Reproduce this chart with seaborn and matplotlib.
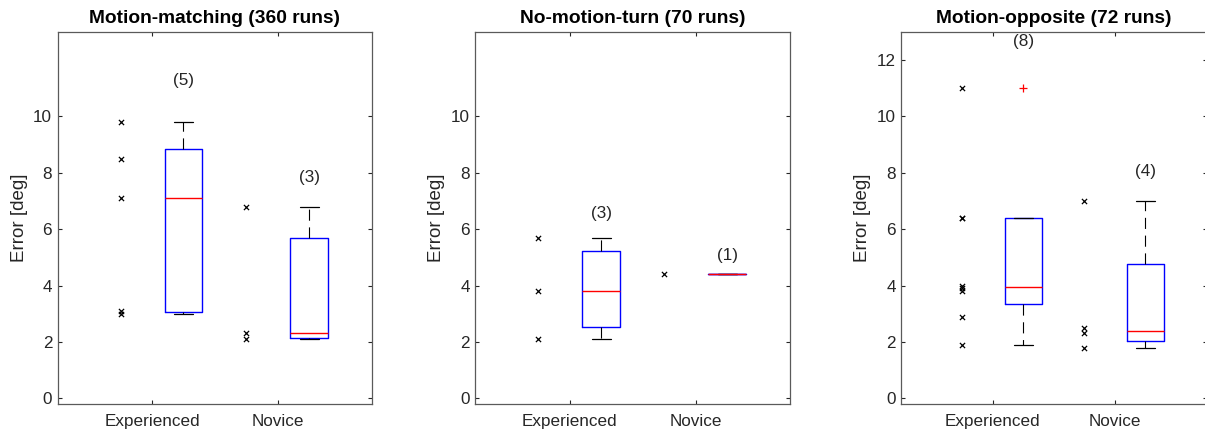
import numpy as np
import pandas as pd
import matplotlib
matplotlib.use("Agg")
import matplotlib.pyplot as plt
import seaborn as sns

# ---------------- data ----------------
groups = ["Experienced", "Novice"]
panel_titles = ["Motion-matching (360 runs)", "No-motion-turn (70 runs)", "Motion-opposite (72 runs)"]

matching_experienced = [9.8, 8.5, 7.1, 3.1, 3.0]
matching_novice = [6.8, 2.3, 2.1]
noturn_experienced = [5.7, 3.8, 2.1]
noturn_novice = [4.4]
opposite_experienced = [11.0, 6.4, 6.4, 4.0, 3.9, 3.8, 2.9, 1.9]
opposite_novice = [7.0, 2.5, 2.3, 1.8]

yticks_panels = [[0, 2, 4, 6, 8, 10], [0, 2, 4, 6, 8, 10], [0, 2, 4, 6, 8, 10, 12]]
ylabel = "Error [deg]"

panel_data = [
    (matching_experienced, matching_novice),
    (noturn_experienced, noturn_novice),
    (opposite_experienced, opposite_novice),
]

# ---------------- style ----------------
sns.set_theme(style="white")
plt.rcParams["font.family"] = ["Liberation Sans", "DejaVu Sans"]
GRAY = "#262626"


def matlab_prctile(vals, p):
    x = np.sort(np.asarray(vals, dtype=float))
    n = len(x)
    pos = n * p / 100.0 + 0.5
    pos = min(max(pos, 1.0), float(n))
    lo = int(np.floor(pos))
    hi = min(lo + 1, n)
    frac = pos - lo
    return x[lo - 1] + frac * (x[hi - 1] - x[lo - 1])


def box_stats(vals):
    x = np.asarray(vals, dtype=float)
    q1 = matlab_prctile(x, 25)
    q3 = matlab_prctile(x, 75)
    med = float(np.median(x))
    iqr = q3 - q1
    lo_f, hi_f = q1 - 1.5 * iqr, q3 + 1.5 * iqr
    inside = x[(x >= lo_f) & (x <= hi_f)]
    fl = x[(x < lo_f) | (x > hi_f)]
    return dict(med=med, q1=q1, q3=q3, whislo=inside.min(), whishi=inside.max(), fliers=fl)


fig = plt.figure(figsize=(12.05, 4.33), dpi=100)
W, H = 1205.0, 433.0
bottom = 1 - 404.0 / H
height = (404.0 - 31.7) / H
lefts = [57.7, 475.3, 901.3]
widths = [314.3, 314.7, 305.2]

FS = 12.3
for k in range(3):
    ax = fig.add_axes([lefts[k] / W, bottom, widths[k] / W, height])
    exp_vals, nov_vals = panel_data[k]
    cat_pos = np.arange(1, len(groups) + 1)

    rows = []
    for gi, vals in enumerate([exp_vals, nov_vals]):
        for v in vals:
            rows.append({"group": groups[gi], "pos": cat_pos[gi] - 0.25, "value": v})
    df = pd.DataFrame(rows)

    sns.scatterplot(data=df, x="pos", y="value", marker="x", color="black",
                    s=14, linewidth=0.9, ax=ax, legend=False, zorder=3)

    stats = [box_stats(v) for v in (exp_vals, nov_vals)]
    ax.bxp(stats, positions=cat_pos + 0.25, widths=0.3, capwidths=0.15,
           showfliers=True, patch_artist=False,
           boxprops=dict(color="blue", linewidth=1.0),
           medianprops=dict(color="red", linewidth=1.0),
           whiskerprops=dict(color="black", linewidth=0.8, linestyle=(0, (10, 6))),
           capprops=dict(color="black", linewidth=0.9),
           flierprops=dict(marker="+", markeredgecolor="red", markersize=6,
                           markeredgewidth=0.9, linestyle="none"),
           manage_ticks=False)

    for gi, vals in enumerate([exp_vals, nov_vals]):
        ax.text(cat_pos[gi] + 0.25, 1.15 * max(vals), f"({len(vals)})",
                ha="center", va="center", fontsize=FS, color=GRAY)

    ax.set_xlim(0.25, 2.75)
    ax.set_ylim(-0.2, 13)
    ax.set_xticks(cat_pos)
    ax.set_xticklabels(groups)
    ax.set_yticks(yticks_panels[k])
    ax.set_xlabel("")
    ax.set_ylabel(ylabel, fontsize=FS * 1.1, color=GRAY, labelpad=4)
    ax.set_title(panel_titles[k], fontsize=FS * 1.12, fontweight="bold", color="black", pad=6)
    ax.tick_params(axis="both", which="both", direction="in", length=3,
                   width=0.8, color=GRAY, labelcolor=GRAY, labelsize=FS,
                   top=True, right=True, bottom=True, left=True)
    ax.tick_params(axis="x", pad=7)
    ax.tick_params(axis="y", pad=4)
    for sp in ax.spines.values():
        sp.set_visible(True)
        sp.set_color("#5a5a5a")
        sp.set_linewidth(0.9)
    ax.grid(False)

fig.savefig("out.png", dpi=100)
